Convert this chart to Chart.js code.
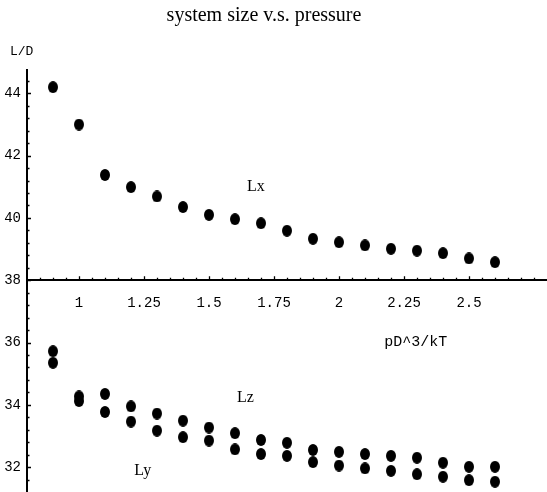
<!DOCTYPE html>
<html>
<head>
<meta charset="utf-8">
<script src="https://cdn.jsdelivr.net/npm/chart.js@4/dist/chart.umd.min.js"></script>
<style>
  html, body { margin: 0; padding: 0; background: #fff; }
</style>
</head>
<body>
<canvas id="sizeChart" width="547" height="492"></canvas>
<script>
// pressure pD^3/kT
var pressure = [0.9, 1.0, 1.1, 1.2, 1.3, 1.4, 1.5, 1.6, 1.7, 1.8, 1.9, 2.0, 2.1, 2.2, 2.3, 2.4, 2.5, 2.6];
// box lengths L/D
var lx = [44.2, 43.0, 41.38, 40.99, 40.69, 40.35, 40.1, 39.96, 39.83, 39.59, 39.33, 39.22, 39.12, 39.01, 38.95, 38.87, 38.7, 38.58];
var lz = [35.72, 34.27, 34.35, 33.95, 33.72, 33.49, 33.27, 33.09, 32.87, 32.78, 32.55, 32.49, 32.42, 32.36, 32.3, 32.14, 32.01, 32.01];
var ly = [35.35, 34.12, 33.77, 33.46, 33.17, 32.96, 32.85, 32.57, 32.42, 32.36, 32.16, 32.05, 31.96, 31.88, 31.77, 31.69, 31.58, 31.53];

var xTicks = [1, 1.25, 1.5, 1.75, 2, 2.25, 2.5];
var yTicks = [32, 34, 36, 38, 40, 42, 44];

var mono = '"Liberation Mono", "DejaVu Sans Mono", monospace';
var serif = '"Liberation Serif", "DejaVu Serif", serif';

// slightly tall black dot, like the scanned plot
var dot = document.createElement('canvas');
dot.width = 10;
dot.height = 12;
var dctx = dot.getContext('2d');
dctx.fillStyle = '#000';
dctx.beginPath();
dctx.ellipse(5, 6, 5, 6, 0, 0, Math.PI * 2);
dctx.fill();

function toPoints(ys) {
    return pressure.map(function (p, i) { return { x: p, y: ys[i] }; });
}

function series(name, ys) {
    return {
        label: name,
        data: toPoints(ys),
        pointStyle: dot,
        pointRadius: 6,
        showLine: false
    };
}

// small inward tick marks, Mathematica style
var tickMarks = {
    id: 'tickMarks',
    afterDraw: function (chart) {
        var c = chart.ctx;
        var xs = chart.scales.x, ys = chart.scales.y;
        var axisY = ys.getPixelForValue(38);
        var axisX = chart.chartArea.left;
        c.save();
        c.strokeStyle = '#000';
        c.lineWidth = 1.3;
        c.beginPath();
        for (var k = 17; k <= 55; k++) {
            var v = k * 0.05;
            var major = xTicks.some(function (t) { return Math.abs(t - v) < 1e-6; });
            var px = Math.round(xs.getPixelForValue(v)) + 0.5;
            c.moveTo(px, axisY);
            c.lineTo(px, axisY - (major ? 4 : 2.5));
        }
        for (var j = 79; j <= 111; j++) {
            var w = j * 0.4;
            var maj = yTicks.some(function (t) { return Math.abs(t - w) < 1e-6; });
            var py = Math.round(ys.getPixelForValue(w)) + 0.5;
            c.moveTo(axisX, py);
            c.lineTo(axisX + (maj ? 4 : 2.5), py);
        }
        c.stroke();
        c.restore();
    }
};

var notes = [
    { text: 'Lx', x: 1.68, y: 41.0, font: '16px ' + serif },
    { text: 'Lz', x: 1.64, y: 34.22, font: '16px ' + serif },
    { text: 'Ly', x: 1.245, y: 31.88, font: '16px ' + serif },
    { text: 'pD^3/kT', x: 2.295, y: 36.0, font: '15px ' + mono }
];

var textLabels = {
    id: 'textLabels',
    afterDraw: function (chart) {
        var c = chart.ctx;
        var xs = chart.scales.x, ys = chart.scales.y;
        c.save();
        c.fillStyle = '#000';
        c.textAlign = 'center';
        c.textBaseline = 'alphabetic';
        c.font = '20px ' + serif;
        c.fillText('system size v.s. pressure', 264, 21);
        c.textAlign = 'left';
        c.textBaseline = 'middle';
        c.font = '13px ' + mono;
        c.fillText('L/D', 10, 52);
        c.textAlign = 'center';
        notes.forEach(function (n) {
            c.font = n.font;
            c.fillText(n.text, xs.getPixelForValue(n.x), ys.getPixelForValue(n.y));
        });
        c.restore();
    }
};

var sizeChart = new Chart(document.getElementById('sizeChart'), {
    type: 'scatter',
    data: {
        datasets: [series('Lx', lx), series('Lz', lz), series('Ly', ly)]
    },
    options: {
        responsive: false,
        animation: false,
        layout: { autoPadding: false, padding: { top: 70, left: 0, right: 0, bottom: 0 } },
        plugins: {
            legend: { display: false },
            tooltip: { enabled: false },
            title: { display: false }
        },
        scales: {
            x: {
                type: 'linear',
                min: 0.8,
                max: 2.8,
                position: { y: 38 },
                afterBuildTicks: function (s) { s.ticks = xTicks.map(function (v) { return { value: v }; }); },
                afterFit: function (s) { s.paddingLeft = 0; s.paddingRight = 0; },
                grid: { display: false, drawTicks: false },
                border: { display: true, color: '#000', width: 2 },
                ticks: {
                    padding: 15,
                    color: '#000',
                    autoSkip: false,
                    maxRotation: 0,
                    font: { family: mono, size: 14 },
                    callback: function (v) { return String(v); }
                }
            },
            y: {
                type: 'linear',
                min: 31.2,
                max: 44.75,
                position: 'left',
                afterFit: function (s) { s.width = 27; s.paddingTop = 0; s.paddingBottom = 0; },
                afterBuildTicks: function (s) { s.ticks = yTicks.map(function (v) { return { value: v }; }); },
                grid: { display: false, drawTicks: false },
                border: { display: true, color: '#000', width: 2 },
                ticks: {
                    padding: 6,
                    color: '#000',
                    font: { family: mono, size: 14 },
                    callback: function (v) { return String(v); }
                }
            }
        }
    },
    plugins: [tickMarks, textLabels]
});
</script>
</body>
</html>
